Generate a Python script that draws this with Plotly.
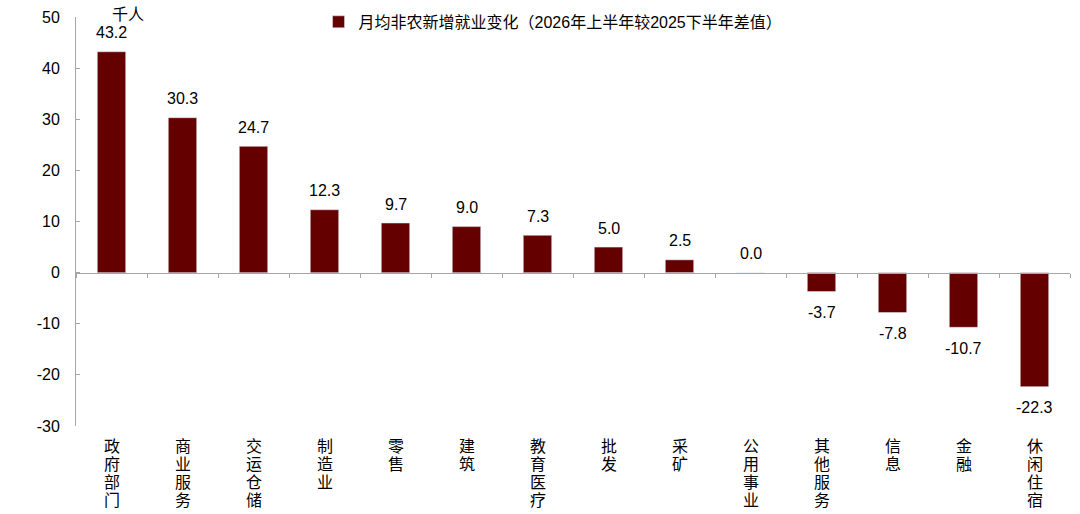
import plotly.graph_objects as go

categories = ["政府部门", "商业服务", "交运仓储", "制造业", "零售", "建筑", "教育医疗",
              "批发", "采矿", "公用事业", "其他服务", "信息", "金融", "休闲住宿"]
values = [43.2, 30.3, 24.7, 12.3, 9.7, 9.0, 7.3, 5.0, 2.5, 0.0, -3.7, -7.8, -10.7, -22.3]
y_ticks = [-30, -20, -10, 0, 10, 20, 30, 40, 50]
series_name = "月均非农新增就业变化（2026年上半年较2025下半年差值）"
unit_label = "千人"

FONT = "Arial, 'Liberation Sans', 'Noto Sans CJK SC', sans-serif"
BAR_COLOR = "#650000"
AXIS_COLOR = "#a6a6a6"

fig = go.Figure(
    go.Bar(
        x=categories,
        y=values,
        name=series_name,
        marker_color=BAR_COLOR,
        width=0.4,
        cliponaxis=False,
    )
)

annotations = []
# value labels above positive bars, below negative ones
for cat, v in zip(categories, values):
    annotations.append(dict(
        x=cat, y=v, xref="x", yref="y", text=f"{v:.1f}", showarrow=False,
        xanchor="center", yanchor="middle", yshift=19 if v >= 0 else -21,
        font=dict(size=16, color="#000000", family=FONT),
    ))
# category labels written vertically, one character per row
for cat in categories:
    for i, ch in enumerate(cat):
        annotations.append(dict(
            x=cat, y=-30, xref="x", yref="y", text=ch, showarrow=False,
            xanchor="center", yanchor="middle", yshift=-20 - 18 * i,
            font=dict(size=16, color="#000000", family=FONT),
        ))
annotations.append(dict(
    x=0.052, y=1.005, xref="paper", yref="paper", text=unit_label, showarrow=False,
    xanchor="center", yanchor="middle",
    font=dict(size=16, color="#000000", family=FONT),
))

fig.update_layout(
    width=1080,
    height=514,
    margin=dict(l=76, r=10, t=17, b=88, autoexpand=False),
    paper_bgcolor="white",
    plot_bgcolor="white",
    font=dict(family=FONT, size=16, color="#000000"),
    showlegend=True,
    legend=dict(
        x=0.244, y=0.988, xanchor="left", yanchor="middle",
        font=dict(size=16), bgcolor="rgba(0,0,0,0)",
        itemwidth=30,
    ),
    bargap=0.6,
    annotations=annotations,
)

# x axis sits on the zero line (0 is at 30/80 of the range)
fig.update_xaxes(
    anchor="free", position=30 / 80,
    showline=True, linecolor=AXIS_COLOR, linewidth=1,
    ticks="outside", tickson="boundaries", ticklen=4, tickcolor=AXIS_COLOR,
    showticklabels=False, showgrid=False,
)
fig.update_yaxes(
    range=[-30, 50],
    tickvals=y_ticks, ticktext=[str(t) for t in y_ticks],
    showline=True, linecolor=AXIS_COLOR, linewidth=1,
    ticks="inside", ticklen=4, tickcolor=AXIS_COLOR,
    showgrid=False, zeroline=False,
    tickfont=dict(size=16), ticklabelstandoff=12,
)

# drop the default page margin so the figure sits at the window corner
fig.write_html(
    "out.html",
    config={"displayModeBar": False},
    post_script="document.body.style.margin='0';",
)
